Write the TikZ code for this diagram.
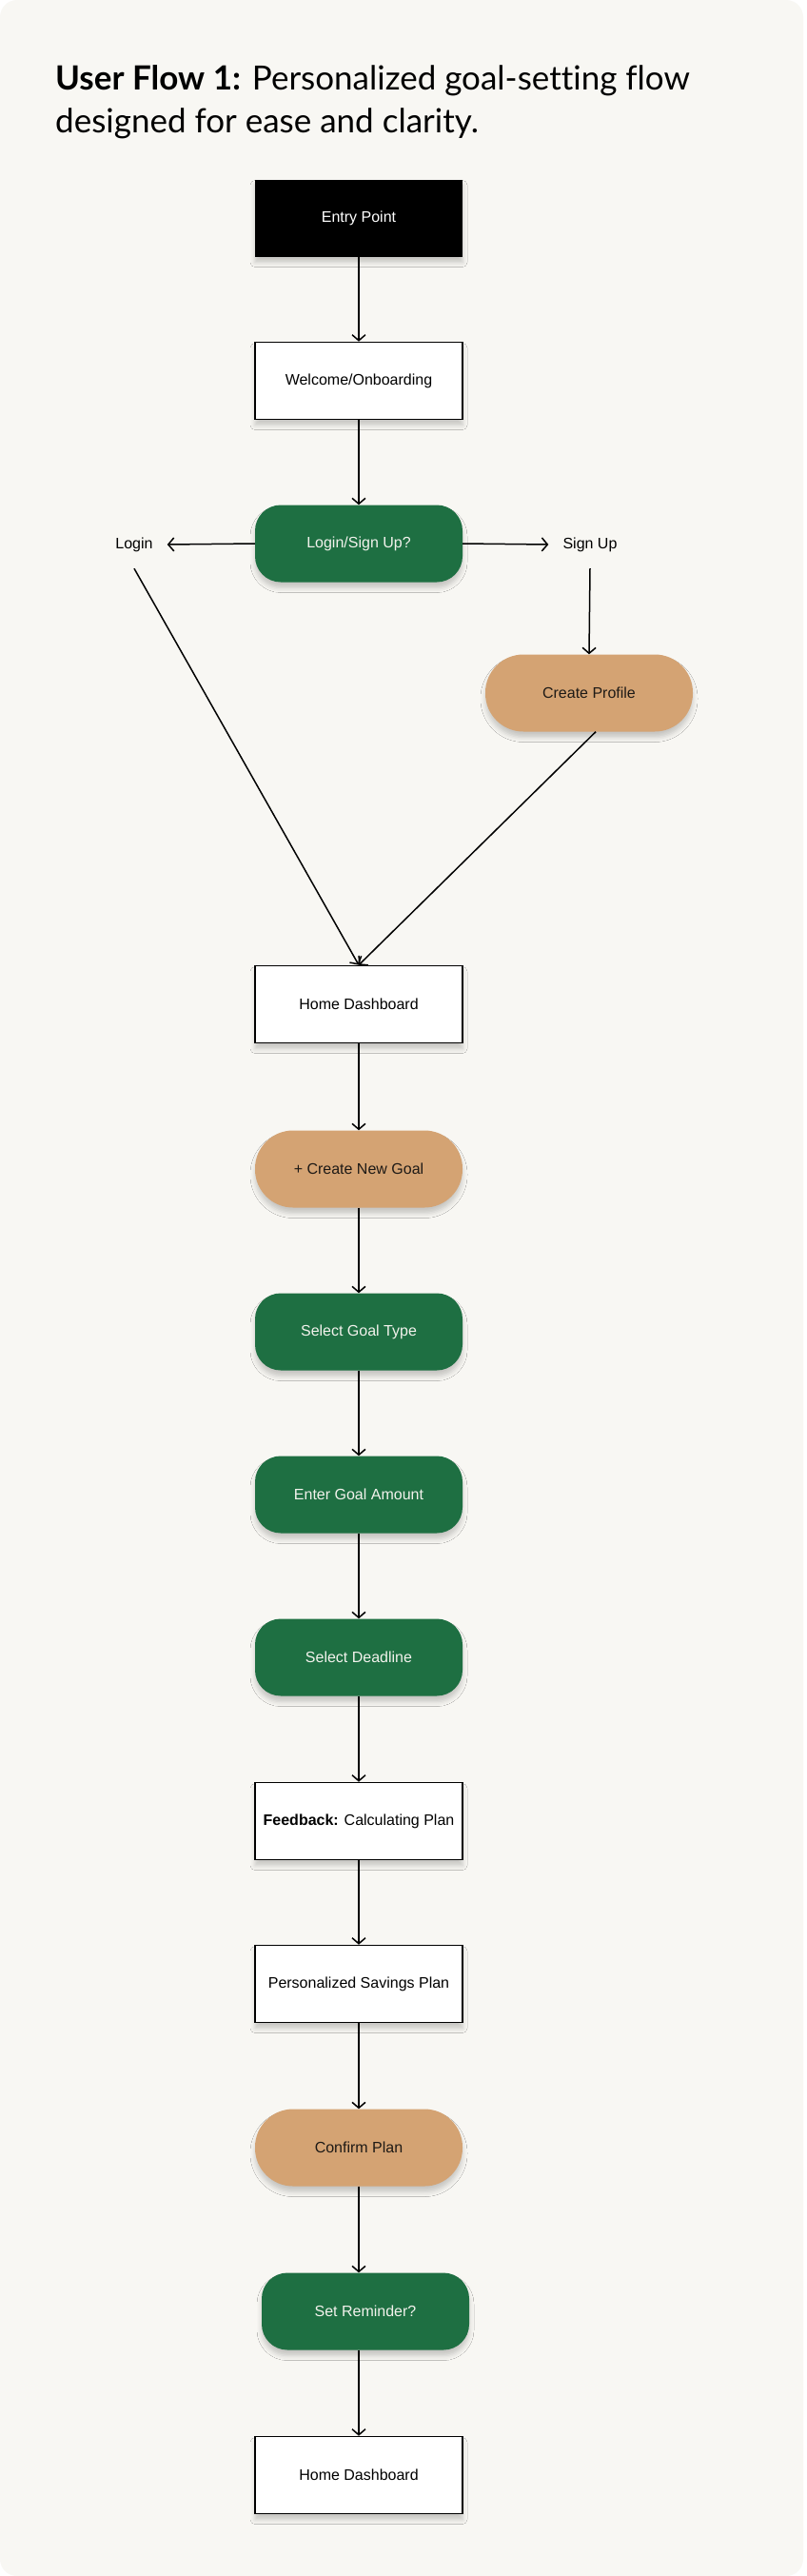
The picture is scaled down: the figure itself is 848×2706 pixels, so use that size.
\documentclass[tikz,border=0pt]{standalone}
\usepackage{fontspec}
\setmainfont{Liberation Sans}
\newfontfamily\titlefont[Ligatures=NoCommon]{Lato}
\usetikzlibrary{arrows.meta,shadows.blur}
\definecolor{bgc}{HTML}{F8F7F3}
\definecolor{fgreen}{HTML}{1E6F42}
\definecolor{ftan}{HTML}{D4A373}
\definecolor{gtext}{HTML}{F2F2EC}
\definecolor{ttext}{HTML}{1E1A16}
\tikzset{
  base/.style={minimum width=218pt, minimum height=81pt, inner sep=0pt,
    font=\fontsize{16pt}{19pt}\selectfont,
    blur shadow={shadow xshift=0pt, shadow yshift=-6pt, shadow blur radius=5pt, shadow opacity=20}},
  blackbox/.style={base, fill=black, text=white},
  whitebox/.style={base, fill=white, draw=black, line width=1.6pt},
  greenbox/.style={base, fill=fgreen, text=gtext, rounded corners=27pt},
  tanbox/.style={base, fill=ftan, text=ttext, rounded corners=40pt},
  flow/.style={draw=black, line width=1.5pt, -{Straight Barb[length=6pt,width=14pt,line width=1.5pt]}},
  plainlabel/.style={font=\fontsize{16pt}{19pt}\selectfont, inner xsep=15pt, inner ysep=0pt, minimum height=50pt}
}
\begin{document}
\begin{tikzpicture}[x=1pt,y=-1pt]
\useasboundingbox (0,0) rectangle (848,2706);
\fill[white] (0,0) rectangle (848,2706);
\fill[bgc, rounded corners=18pt] (0,0) rectangle (844,2706);

\node[anchor=base west, inner sep=0pt, font=\titlefont\fontsize{35pt}{40pt}\selectfont] (title1) at (58,94) {\textbf{User Flow 1:} Personalized goal-setting flow};
\node[anchor=base west, inner sep=0pt, font=\titlefont\fontsize{35pt}{40pt}\selectfont] (title2) at (58,139) {designed for ease and clarity.};

\node[blackbox] (entry) at (377,229) {Entry Point};
\node[whitebox] (welcome) at (377,400) {Welcome/Onboarding};
\node[greenbox] (loginq) at (377,571) {Login/Sign Up?};
\node[plainlabel] (login) at (141,572) {Login};
\node[plainlabel] (signup) at (620,572) {Sign Up};
\node[tanbox] (profile) at (619,728) {Create Profile};
\node[whitebox] (home1) at (377,1055) {Home Dashboard};
\node[tanbox] (newgoal) at (377,1228) {+ Create New Goal};
\node[greenbox] (goaltype) at (377,1399) {Select Goal Type};
\node[greenbox] (amount) at (377,1570) {Enter Goal Amount};
\node[greenbox] (deadline) at (377,1741) {Select Deadline};
\node[whitebox] (feedback) at (377,1913) {\textbf{Feedback:} Calculating Plan};
\node[whitebox] (plan) at (377,2084) {Personalized Savings Plan};
\node[tanbox] (confirm) at (377,2256) {Confirm Plan};
\node[greenbox] (reminder) at (384,2428) {Set Reminder?};
\node[whitebox] (home2) at (377,2600) {Home Dashboard};

\draw[flow] (entry.south) -- (welcome.north);
\draw[flow] (welcome.south) -- (loginq.north);
\draw[flow] (loginq.west) -- (login.east);
\draw[flow] (loginq.east) -- (signup.west);
\draw[flow] (signup.south) -- (profile.north);
\draw[flow] (login.south) -- (home1.north);
\draw[flow] ([xshift=7pt]profile.south) -- (home1.north);
\draw[flow] (home1.south) -- (newgoal.north);
\draw[flow] (newgoal.south) -- (goaltype.north);
\draw[flow] (goaltype.south) -- (amount.north);
\draw[flow] (amount.south) -- (deadline.north);
\draw[flow] (deadline.south) -- (feedback.north);
\draw[flow] (feedback.south) -- (plan.north);
\draw[flow] (plan.south) -- (confirm.north);
\draw[flow] (confirm.south) -- (confirm.south |- reminder.north);
\draw[flow] (reminder.south -| home2.north) -- (home2.north);
\end{tikzpicture}
\end{document}
